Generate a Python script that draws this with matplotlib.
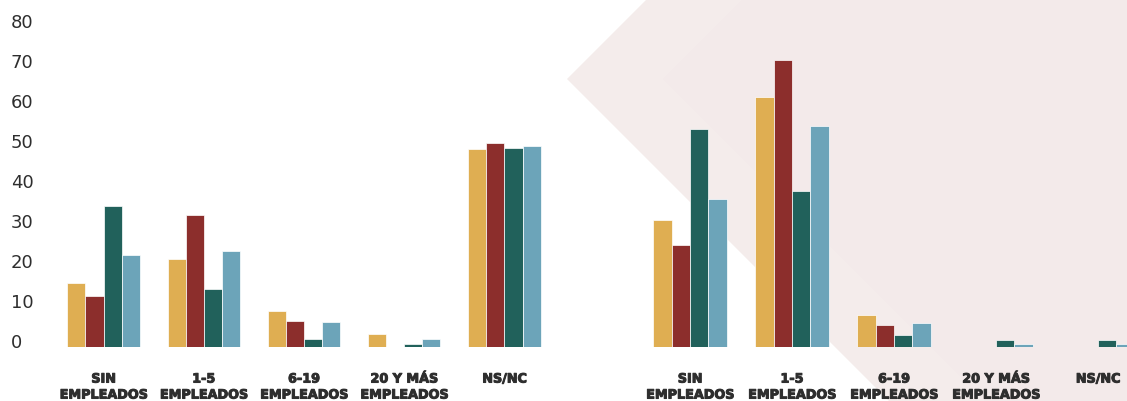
import matplotlib
matplotlib.use("Agg")
import matplotlib.pyplot as plt
import matplotlib.patheffects as pe
from matplotlib.patches import Polygon
from matplotlib.transforms import ScaledTranslation
import numpy as np

# categories on the x axis (same for both panels)
categories = ["SIN\nEMPLEADOS", "1-5\nEMPLEADOS", "6-19\nEMPLEADOS", "20 Y MÁS\nEMPLEADOS", "NS/NC"]
y_ticks = [0, 10, 20, 30, 40, 50, 60, 70, 80]

# left panel, one list per series
left_s1 = [16, 22, 9, 3.25, 49.5]
left_s2 = [12.75, 33, 6.5, 0, 51]
left_s3 = [35.25, 14.5, 2, 0.75, 49.75]
left_s4 = [23, 24, 6.25, 2, 50.25]

# right panel
right_s1 = [31.75, 62.5, 8, 0, 0]
right_s2 = [25.5, 71.75, 5.5, 0, 0]
right_s3 = [54.5, 39, 3, 1.75, 1.75]
right_s4 = [37, 55.25, 6, 0.75, 0.75]

colors = ["#DFAE52", "#8C2E2C", "#21615B", "#6CA4B9"]
text_color = "#2E2E2E"

W, H = 1127, 401
fig = plt.figure(figsize=(W / 100, H / 100), dpi=100)


def px_box(x0, x1, y_top, y_bottom):
    """axes rect in figure fractions from pixel edges"""
    return [x0 / W, 1 - y_bottom / H, (x1 - x0) / W, (y_bottom - y_top) / H]


def px_poly(points, color):
    pts = [(x / W, 1 - y / H) for x, y in points]
    fig.patches.append(Polygon(pts, closed=True, transform=fig.transFigure,
                               facecolor=color, edgecolor="none", zorder=-5))


# background chevrons
px_poly([(646, 0), (567, 79), (889, 401), (W, 401), (W, 0)], "#F4ECEB")
px_poly([(742, 0), (663, 79), (985, 401), (W, 401), (W, 0)], "#F3EAEA")

bar_w = 0.18
x = np.arange(len(categories))
heavy = [pe.withStroke(linewidth=0.7, foreground=text_color)]


def draw_panel(ax, series, xlim):
    for i, (vals, c) in enumerate(zip(series, colors)):
        ax.bar(x + (i - 1.5) * bar_w, vals, width=bar_w, color=c,
               edgecolor="white", linewidth=0.5)
    ax.set_xlim(*xlim)
    ax.set_ylim(0, 80)
    ax.set_facecolor("none")
    for s in ax.spines.values():
        s.set_visible(False)
    ax.set_yticks([])
    ax.set_xticks(x)
    ax.set_xticklabels(categories, fontsize=9.2, fontweight="bold",
                       color=text_color, linespacing=1.3)
    for t in ax.get_xticklabels():
        t.set_path_effects(heavy)
    ax.tick_params(axis="x", length=0, pad=18.4)


ax1 = fig.add_axes(px_box(53.4, 554.6, 27, 347))
draw_panel(ax1, [left_s1, left_s2, left_s3, left_s4], (-0.5, 4.5))

ax2 = fig.add_axes(px_box(639, W, 27, 347))
draw_panel(ax2, [right_s1, right_s2, right_s3, right_s4], (-0.5, 4.284))

# y labels, left aligned, slightly above the value
lbl_x = (11 - 53.4) / (554.6 - 53.4)
shift = ScaledTranslation(0, 0.04, fig.dpi_scale_trans)
for v in y_ticks:
    ax1.text(lbl_x, v, str(v), transform=ax1.get_yaxis_transform() + shift,
             ha="left", va="center", fontsize=13, color=text_color, clip_on=False)

fig.savefig("out.png", dpi=100)
